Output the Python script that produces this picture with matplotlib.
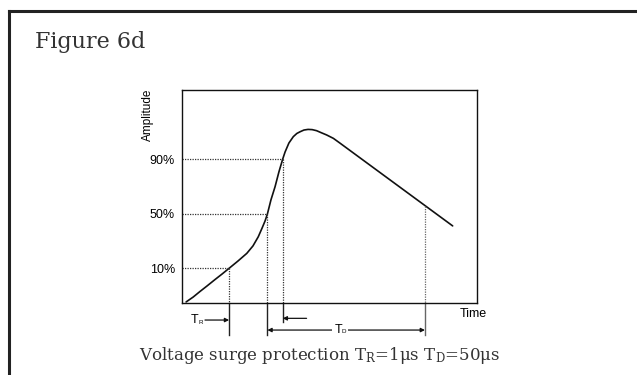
import matplotlib
matplotlib.use("Agg")
import matplotlib.pyplot as plt
from matplotlib.lines import Line2D

plt.rcParams["mathtext.fontset"] = "dejavuserif"

# surge waveform, in arbitrary time / amplitude units (axis 0..100)
t = [1.4, 3.8, 6.1, 8.5, 11.2, 13.6, 16.0, 19.0, 22.0, 24.1, 25.9, 27.2,
     28.2, 29.0, 30.2, 31.6, 32.9, 34.2, 35.0, 36.3, 37.8, 39.0, 40.1,
     41.4, 42.8, 44.2, 45.7, 47.2, 49.1, 51.4, 53.7, 91.9]
amp = [0.5, 2.8, 5.4, 8.0, 11.0, 13.6, 16.3, 19.7, 23.3, 26.8, 31.1, 35.2,
       38.5, 41.8, 48.4, 54.6, 61.5, 67.6, 70.9, 75.1, 78.1, 79.6, 80.4,
       81.2, 81.5, 81.4, 80.9, 80.0, 78.9, 77.3, 75.0, 36.2]

levels = [16.3, 41.8, 67.6]
level_labels = ["10%", "50%", "90%"]
cross_t = [16.0, 29.0, 34.2]
decay_t = 82.5
decay_amp = 45.5

fig = plt.figure(figsize=(6.37, 3.75), dpi=100)

# outer frame (top + left edge)
fig.add_artist(Line2D([8.5 / 637, 1], [1 - 10.5 / 375, 1 - 10.5 / 375],
                      transform=fig.transFigure, color="#222222", lw=2.2))
fig.add_artist(Line2D([8.5 / 637, 8.5 / 637], [0, 1 - 10.5 / 375],
                      transform=fig.transFigure, color="#222222", lw=2.2))

fig.text(35 / 637, 1 - 48 / 375, "Figure 6d", family="DejaVu Serif",
         fontsize=16, color="#333333", va="baseline", ha="left")

ax = fig.add_axes([182 / 637, 72 / 375, 294.5 / 637, 213 / 375])
ax.set_xlim(0, 100)
ax.set_ylim(0, 100)
for s in ax.spines.values():
    s.set_linewidth(1.0)
    s.set_color("#111111")

ax.plot(t, amp, color="#111111", lw=1.2, solid_capstyle="round",
        solid_joinstyle="round")

# dotted guide lines
for lv, ct in zip(levels, cross_t):
    ax.plot([0, ct], [lv, lv], color="#333333", lw=0.9, ls=(0, (1, 1)))
    ax.plot([ct, ct], [lv, 0], color="#333333", lw=0.9, ls=(0, (1, 1)))
ax.plot([decay_t, decay_t], [decay_amp, 0], color="#666666", lw=0.9,
        ls=(0, (1, 1)))

ax.set_xticks([])
ax.set_yticks(levels)
ax.set_yticklabels(level_labels, family="Liberation Sans", fontsize=9)
ax.tick_params(axis="y", length=0, pad=5)

fig.text(148 / 637, 1 - 115 / 375, "Amplitude", rotation=90,
         family="Liberation Sans", fontsize=8.5, ha="center", va="center")
ax.text(94.3, -5.2, "Time", family="Liberation Sans", fontsize=9,
        ha="left", va="center", clip_on=False)

# markers below the axis
for x, y0, c in [(cross_t[0], -15, "#222222"), (cross_t[1], -15, "#222222"),
                 (cross_t[2], -8.8, "#222222"), (decay_t, -15, "#666666")]:
    ax.plot([x, x], [0, y0], color=c, lw=1.0, clip_on=False)

arrow = dict(arrowstyle="-|>", color="#111111", lw=0.9,
             mutation_scale=6, shrinkA=0, shrinkB=0)
ax.annotate("", xy=(cross_t[0], -8.0), xytext=(7.8, -8.0),
            arrowprops=arrow, annotation_clip=False)
ax.text(4.4, -8.0, "T", family="Liberation Sans", fontsize=9,
        ha="center", va="center", clip_on=False)
ax.text(5.6, -9.0, "R", family="Liberation Sans", fontsize=4.5,
        ha="left", va="center", clip_on=False)

ax.annotate("", xy=(cross_t[2], -7.2), xytext=(42.3, -7.2),
            arrowprops=arrow, annotation_clip=False)

ax.annotate("", xy=(cross_t[1], -12.7), xytext=(decay_t, -12.7),
            arrowprops=dict(arrowstyle="<|-|>", color="#111111", lw=0.9,
                            mutation_scale=6, shrinkA=0, shrinkB=0),
            annotation_clip=False)
ax.text(53.0, -12.7, "T", family="Liberation Sans", fontsize=9,
        ha="center", va="center", clip_on=False,
        bbox=dict(facecolor="white", edgecolor="none", pad=1.5))
ax.text(54.3, -13.6, "D", family="Liberation Sans", fontsize=4.5,
        ha="left", va="center", clip_on=False,
        bbox=dict(facecolor="white", edgecolor="none", pad=0.8))

fig.text(320 / 637, 1 - 360 / 375,
         r"Voltage surge protection T$_\mathrm{R}$=1μs T$_\mathrm{D}$=50μs",
         family="DejaVu Serif", fontsize=12, color="#333333",
         ha="center", va="baseline")

fig.savefig("out.png", dpi=100)
